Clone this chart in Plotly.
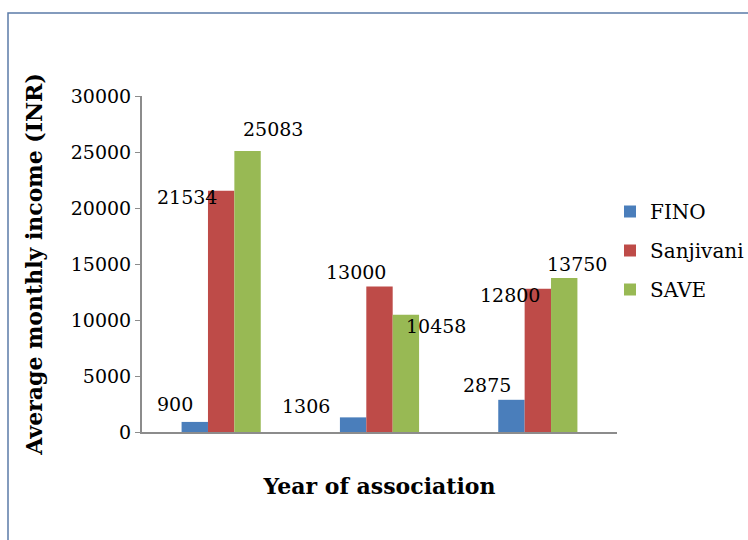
import plotly.graph_objects as go

# Average monthly income by year of association, per programme
groups = [0, 1, 2]
series_names = ["FINO", "Sanjivani", "SAVE"]
fino = [900, 1306, 2875]
sanjivani = [21534, 13000, 12800]
save = [25083, 10458, 13750]

colors = ["#4A7EBB", "#BE4B48", "#98B954"]
y_ticks = [0, 5000, 10000, 15000, 20000, 25000, 30000]

# pixel nudges for each value label (x, y) per series and group
label_dx = [[-20, -47, -24], [-34, -24, -28], [25, 30, 13]]
label_dy = [[18, 11, 15], [-6, 14, -6], [22, -11, 14]]

FONT = "DejaVu Serif"
bargap = 0.5
bar_w = (1 - bargap) / 3

fig = go.Figure()
all_values = [fino, sanjivani, save]
for name, vals, col in zip(series_names, all_values, colors):
    fig.add_trace(go.Bar(x=groups, y=vals, name=name, marker_color=col,
                         marker_line_width=0, legendgroup=name))

annotations = []
for k, vals in enumerate(all_values):
    for i, v in enumerate(vals):
        annotations.append(dict(
            x=i + (k - 1) * bar_w, y=v, xref="x", yref="y",
            text=f"{v}", showarrow=False,
            xanchor="center", yanchor="middle",
            xshift=label_dx[k][i], yshift=label_dy[k][i],
            font=dict(family=FONT, size=19, color="#000000"),
        ))

# outer chart frame
fig.add_shape(type="rect", xref="paper", yref="paper",
              x0=(8 - 142) / 475, x1=(760 - 142) / 475,
              y0=(432 - 560) / 336, y1=(432 - 13) / 336,
              line=dict(color="#5B7BA8", width=1.5), fillcolor="rgba(0,0,0,0)",
              layer="below")

fig.update_layout(
    width=748, height=540,
    margin=dict(l=142, r=131, t=96, b=108, autoexpand=False),
    paper_bgcolor="white", plot_bgcolor="white",
    barmode="group", bargap=bargap, bargroupgap=0,
    showlegend=True,
    legend=dict(x=(610 - 142) / 475, y=(432 - 192) / 336,
                xanchor="left", yanchor="top",
                font=dict(family=FONT, size=20, color="#000000"),
                itemwidth=30, tracegroupgap=10,
                bgcolor="rgba(0,0,0,0)"),
    annotations=annotations,
    xaxis=dict(range=[-0.5, 2.5], showticklabels=False, ticks="",
               showgrid=False, zeroline=False, showline=True,
               linecolor="#8C8C8C", linewidth=2,
               title=dict(text="<b>Year of association</b>",
                          font=dict(family=FONT, size=22, color="#000000"),
                          standoff=46)),
    yaxis=dict(range=[0, 30000], tickvals=y_ticks,
               ticktext=[str(t) for t in y_ticks],
               ticks="outside", ticklen=5, tickcolor="#8C8C8C",
               showgrid=False, zeroline=False, showline=True,
               linecolor="#8C8C8C", linewidth=2,
               tickfont=dict(family=FONT, size=19, color="#000000"),
               title=dict(text="<b>Average monthly income (INR)</b>",
                          font=dict(family=FONT, size=22, color="#000000"),
                          standoff=22)),
)

fig.write_html("out.html")
